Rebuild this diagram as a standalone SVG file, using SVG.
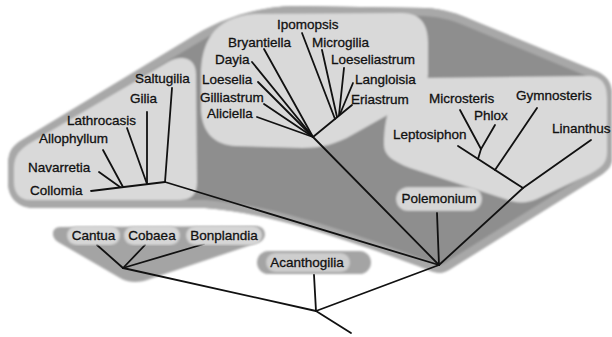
<svg xmlns="http://www.w3.org/2000/svg" width="612" height="337" viewBox="0 0 612 337">
<style>
text{font-family:"Liberation Sans",Arial,sans-serif;font-size:13.5px;fill:#111;stroke:#111;stroke-width:0.3}
.ln{stroke:#111;stroke-width:1.8;fill:none;stroke-linecap:round}
.light{fill:#d9d9d9}
.pill{fill:#d6d6d6}
.mid{fill:#a4a4a4}
</style>
<defs>
<filter id="soft" x="-5%" y="-5%" width="110%" height="110%"><feGaussianBlur stdDeviation="1.1"/></filter>
<clipPath id="outerClip"><path id="outerPath" d="M 8,166 C 8,152 12,146 22,140 L 187,40 C 215,22 250,7 295,6 L 425,8 C 445,9 458,14 472,20 L 598,72 C 608,77 612,84 612,95 L 612,158 C 612,166 608,170 601,175 L 452,268 C 445,273 439,274 431,271 C 330,232 260,212 205,208 L 35,208 C 18,208 8,198 8,182 Z"/></clipPath>
</defs>
<rect width="612" height="337" fill="#ffffff"/>
<g id="background" filter="url(#soft)">
<use href="#outerPath" fill="#8e8e8e"/>
<use href="#outerPath" fill="none" stroke="#a8a8a8" stroke-width="16" clip-path="url(#outerClip)"/>
<path class="light" d="M 14,168 C 14,155 20,149 32,142 L 168,62 C 182,54 196,58 196,74 L 197,182 C 197,196 190,200 178,200 L 30,200 C 19,200 14,192 14,182 Z"/>
<path class="light" d="M 201,75 C 201,45 212,17 255,14 L 402,13 C 420,13 428,24 428,42 L 428,74 C 428,88 418,98 400,108 L 352,135 C 336,144 322,148 302,148 L 236,146 C 214,145 202,132 201,110 Z"/>
<path class="light" d="M 384,145 C 384,112 394,82 422,78 L 590,76 C 603,77 607,86 607,98 L 607,152 C 607,163 601,168 590,174 L 537,199 C 526,204 515,203 505,199 L 410,168 C 392,161 384,155 384,145 Z"/>
<path class="mid" d="M 60,227 L 256,226 C 266,226 268,238 260,242 L 150,279 C 140,283 128,283 120,278 L 58,242 C 50,237 52,227 60,227 Z"/>
<rect class="mid" x="257" y="251" width="114" height="23" rx="11.5"/>
</g>
<g id="connectors">
<path class="ln" d="M 264,49 L 313,137"/>
<path class="ln" d="M 252,62 L 313,137"/>
<path class="ln" d="M 258,82 L 313,137"/>
<path class="ln" d="M 264,104 L 313,137"/>
<path class="ln" d="M 257,117 L 313,137"/>
<path class="ln" d="M 313,137 L 352,105"/>
<path class="ln" d="M 302,33 L 335,119"/>
<path class="ln" d="M 322,50 L 337,117"/>
<path class="ln" d="M 344,68 L 339,115"/>
<path class="ln" d="M 353,83 L 340,114"/>
<path class="ln" d="M 313,137 L 439,265"/>
<path class="ln" d="M 91,191 L 165,182"/>
<path class="ln" d="M 99,172 L 120,187"/>
<path class="ln" d="M 103,150 L 123,187"/>
<path class="ln" d="M 127,128 L 147,184"/>
<path class="ln" d="M 147,112 L 147,184"/>
<path class="ln" d="M 172,88 L 165,182"/>
<path class="ln" d="M 165,182 L 439,265"/>
<path class="ln" d="M 460,110 L 481,149"/>
<path class="ln" d="M 495,125 L 481,149 L 478,159"/>
<path class="ln" d="M 458,146 L 523,188"/>
<path class="ln" d="M 537,108 L 495,170"/>
<path class="ln" d="M 591,140 L 523,188 L 439,265"/>
<path class="ln" d="M 437,213 L 439,265"/>
<path class="ln" d="M 439,265 L 316,311"/>
<path class="ln" d="M 314,275 L 316,311 L 351,333"/>
<path class="ln" d="M 316,311 L 123,268"/>
<path class="ln" d="M 97,245 L 123,268"/>
<path class="ln" d="M 145,245 L 124,267"/>
<path class="ln" d="M 204,244 L 123,268"/>
</g>
<g id="n-ipomopsis"><text x="277" y="29">Ipomopsis</text></g>
<g id="n-bryantiella"><text x="228" y="47">Bryantiella</text></g>
<g id="n-microgilia"><text x="312" y="47">Microgilia</text></g>
<g id="n-dayia"><text x="215" y="64">Dayia</text></g>
<g id="n-loeseliastrum"><text x="331" y="64">Loeseliastrum</text></g>
<g id="n-loeselia"><text x="202" y="84">Loeselia</text></g>
<g id="n-langloisia"><text x="355" y="84">Langloisia</text></g>
<g id="n-gilliastrum"><text x="200" y="102">Gilliastrum</text></g>
<g id="n-eriastrum"><text x="351" y="104">Eriastrum</text></g>
<g id="n-aliciella"><text x="207" y="118">Aliciella</text></g>
<g id="n-saltugilia"><text x="135" y="83">Saltugilia</text></g>
<g id="n-gilia"><text x="130" y="103">Gilia</text></g>
<g id="n-lathrocasis"><text x="67" y="125">Lathrocasis</text></g>
<g id="n-allophyllum"><text x="39" y="143">Allophyllum</text></g>
<g id="n-navarretia"><text x="28" y="172">Navarretia</text></g>
<g id="n-collomia"><text x="30" y="195">Collomia</text></g>
<g id="n-microsteris"><text x="429" y="103">Microsteris</text></g>
<g id="n-phlox"><text x="474" y="120">Phlox</text></g>
<g id="n-gymnosteris"><text x="516" y="100">Gymnosteris</text></g>
<g id="n-leptosiphon"><text x="393" y="139">Leptosiphon</text></g>
<g id="n-linanthus"><text x="552" y="133">Linanthus</text></g>
<g id="n-polemonium"><rect class="pill" x="396" y="187" width="86" height="24" rx="12" filter="url(#soft)"/><text x="439" y="203" text-anchor="middle">Polemonium</text></g>
<g id="n-acanthogilia"><rect x="266" y="253" width="84" height="19" rx="9.5" fill="#cecece" filter="url(#soft)"/><text x="307" y="267" text-anchor="middle">Acanthogilia</text></g>
<g id="n-cantua"><rect class="pill" x="67" y="226" width="53" height="19" rx="9.5" filter="url(#soft)"/><text x="93.5" y="240" text-anchor="middle">Cantua</text></g>
<g id="n-cobaea"><rect class="pill" x="124" y="226" width="56" height="19" rx="9.5" filter="url(#soft)"/><text x="152" y="240" text-anchor="middle">Cobaea</text></g>
<g id="n-bonplandia"><rect class="pill" x="186" y="226" width="76" height="19" rx="9.5" filter="url(#soft)"/><text x="224" y="240" text-anchor="middle">Bonplandia</text></g>
</svg>
